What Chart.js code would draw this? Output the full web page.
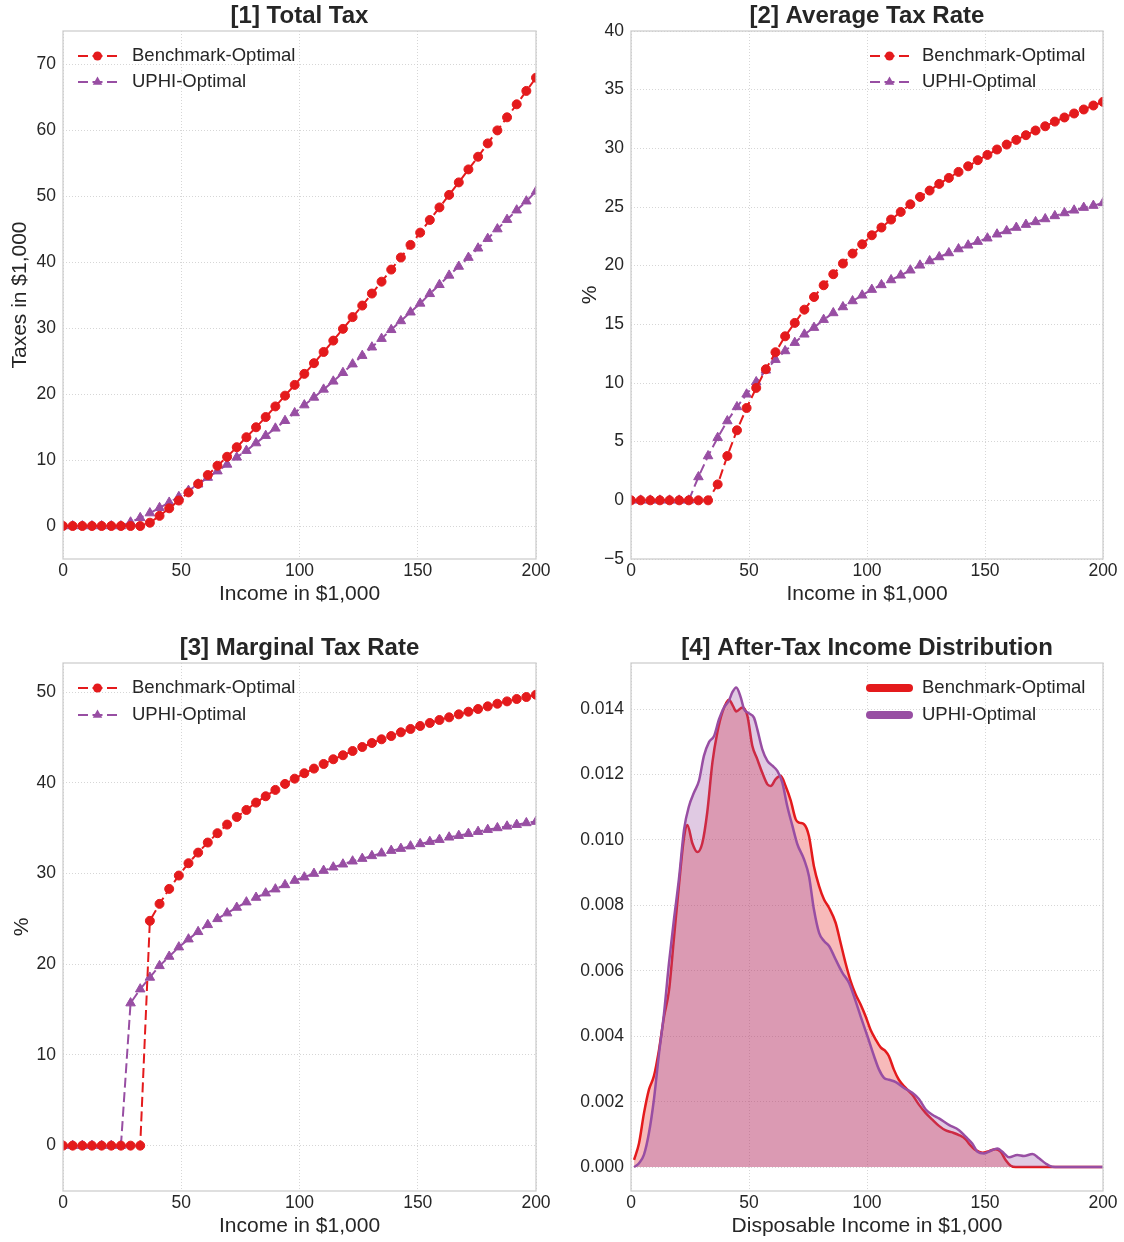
<!DOCTYPE html>
<html>
<head>
<meta charset="utf-8">
<title>Optimal tax schedules</title>
<script src="https://cdn.jsdelivr.net/npm/chart.js@4.4.1/dist/chart.umd.min.js"></script>
<style>
    html, body { margin: 0; padding: 0; background: #fff; }
    body { width: 1124px; height: 1242px; position: relative; overflow: hidden; }
    .painel { position: absolute; }
</style>
</head>
<body>
<div class="painel" style="left:0;top:0;width:562px;height:610px"><canvas id="graficoTotal"></canvas></div>
<div class="painel" style="left:562px;top:0;width:562px;height:610px"><canvas id="graficoMedia"></canvas></div>
<div class="painel" style="left:0;top:620px;width:562px;height:622px"><canvas id="graficoMarginal"></canvas></div>
<div class="painel" style="left:562px;top:620px;width:562px;height:622px"><canvas id="graficoDistribuicao"></canvas></div>
<script>
// income grid shared by panels 1-3 (50 points, 0..200)
const incomeGrid = [0, 4.08, 8.16, 12.24, 16.33, 20.41, 24.49, 28.57, 32.65, 36.73,
    40.82, 44.90, 48.98, 53.06, 57.14, 61.22, 65.31, 69.39, 73.47, 77.55,
    81.63, 85.71, 89.80, 93.88, 97.96, 102.04, 106.12, 110.20, 114.29, 118.37,
    122.45, 126.53, 130.61, 134.69, 138.78, 142.86, 146.94, 151.02, 155.10, 159.18,
    163.27, 167.35, 171.43, 175.51, 179.59, 183.67, 187.76, 191.84, 195.92, 200];

// [1] total tax, $1,000
const totalTaxBench = [0, 0, 0, 0, 0, 0, 0, 0, 0, 0.50,
    1.54, 2.68, 3.86, 5.09, 6.38, 7.72, 9.13, 10.49, 11.94, 13.45,
    14.96, 16.51, 18.12, 19.75, 21.38, 23.05, 24.67, 26.37, 28.09, 29.87,
    31.65, 33.40, 35.22, 37.02, 38.85, 40.68, 42.59, 44.45, 46.37, 48.27,
    50.17, 52.06, 54.03, 55.95, 57.97, 59.94, 61.92, 63.89, 65.92, 67.92];
const totalTaxUphi = [0, 0, 0, 0, 0, 0, 0, 0.57, 1.24, 1.96,
    2.76, 3.57, 4.43, 5.36, 6.33, 7.34, 8.31, 9.33, 10.40, 11.42,
    12.57, 13.69, 14.80, 15.95, 17.13, 18.32, 19.48, 20.70, 21.92, 23.22,
    24.52, 25.81, 27.09, 28.39, 29.73, 31.07, 32.39, 33.73, 35.18, 36.55,
    37.97, 39.32, 40.67, 42.08, 43.54, 44.99, 46.42, 47.85, 49.21, 50.70];

// [2] average tax rate, %
const avgRateBench = [0, 0, 0, 0, 0, 0, 0, 0, 0, 1.36,
    3.78, 5.97, 7.87, 9.58, 11.17, 12.62, 13.98, 15.12, 16.25, 17.33,
    18.33, 19.27, 20.18, 21.03, 21.82, 22.59, 23.25, 23.93, 24.58, 25.23,
    25.86, 26.40, 26.97, 27.48, 27.99, 28.47, 28.99, 29.44, 29.90, 30.32,
    30.72, 31.12, 31.52, 31.88, 32.28, 32.63, 32.97, 33.31, 33.65, 33.96];
const avgRateUphi = [0, 0, 0, 0, 0, 0, 0, 1.99, 3.78, 5.34,
    6.76, 7.96, 9.04, 10.09, 11.08, 11.99, 12.73, 13.44, 14.15, 14.72,
    15.40, 15.97, 16.48, 16.99, 17.48, 17.96, 18.36, 18.78, 19.18, 19.61,
    20.03, 20.40, 20.74, 21.08, 21.42, 21.74, 22.05, 22.34, 22.68, 22.96,
    23.25, 23.50, 23.73, 23.98, 24.24, 24.49, 24.72, 24.95, 25.12, 25.35];

// [3] marginal tax rate, %
const margRateBench = [0, 0, 0, 0, 0, 0, 0, 0, 0, 24.78,
    26.65, 28.30, 29.77, 31.13, 32.30, 33.41, 34.44, 35.39, 36.23, 37.00,
    37.81, 38.51, 39.21, 39.87, 40.45, 41.05, 41.56, 42.07, 42.59, 43.03,
    43.50, 43.94, 44.38, 44.79, 45.15, 45.56, 45.93, 46.26, 46.59, 46.92,
    47.21, 47.54, 47.83, 48.13, 48.42, 48.71, 48.97, 49.23, 49.45, 49.70];
const margRateUphi = [0, 0, 0, 0, 0, 0, 0, 15.71, 17.25, 18.54,
    19.82, 20.85, 21.88, 22.76, 23.57, 24.34, 25.00, 25.63, 26.25, 26.84,
    27.35, 27.83, 28.27, 28.74, 29.22, 29.59, 29.99, 30.32, 30.69, 31.02,
    31.35, 31.64, 31.94, 32.23, 32.52, 32.74, 33.01, 33.26, 33.51, 33.73,
    33.99, 34.17, 34.39, 34.61, 34.83, 35.02, 35.20, 35.38, 35.57, 35.72];

// [4] after-tax income density
const distIncomeBench = [1.3, 3.4, 5.5, 7.6, 9.7, 11.9, 14.0, 16.1, 18.2, 20.3,
    22.5, 23.9, 26.0, 28.1, 30.2, 32.3, 34.5, 36.6, 38.7, 41.5,
    43.2, 44.6, 47.2, 49.3, 51.4, 53.5, 55.6, 57.8, 59.2, 61.3,
    63.4, 65.5, 67.7, 69.8, 71.2, 73.3, 75.4, 77.5, 79.7, 81.8,
    83.9, 86.7, 88.8, 90.9, 93.1, 95.2, 97.3, 99.4, 101.5, 103.7,
    105.8, 107.9, 109.3, 111.4, 113.5, 116.4, 119.2, 122.0, 124.9, 127.7,
    130.5, 133.4, 136.2, 139.0, 141.8, 143.2, 146.1, 148.9, 151.7, 154.5,
    156.6, 158.8, 160.9, 163.0, 200];
const distDensityBench = [0.00022, 0.00073, 0.00165, 0.00237, 0.00278, 0.0036, 0.0046, 0.0054, 0.0070, 0.0086,
    0.0101, 0.01046, 0.0099, 0.00963, 0.0099, 0.01084, 0.01237, 0.01329, 0.0139, 0.01429,
    0.0141, 0.01393, 0.01405, 0.0138, 0.01288, 0.01247, 0.01206, 0.0117, 0.01165, 0.01186,
    0.01196, 0.01165, 0.0112, 0.01063, 0.01053, 0.01048, 0.01012, 0.0092, 0.00859, 0.00818,
    0.00793, 0.00747, 0.00686, 0.00624, 0.00568, 0.00528, 0.00497, 0.00461, 0.0042, 0.0039,
    0.00366, 0.00354, 0.00339, 0.00298, 0.00267, 0.00242, 0.00221, 0.00191, 0.00165, 0.00145,
    0.00126, 0.00112, 0.00106, 0.00098, 0.00085, 0.00072, 0.00052, 0.00044, 0.00049, 0.00055,
    0.00047, 0.00021, 0.00004, 0, 0];
const distIncomeUphi = [1.3, 3.4, 5.5, 7.6, 9.7, 11.9, 14.0, 16.1, 18.2, 20.3,
    22.5, 24.6, 26.7, 28.8, 30.9, 33.1, 35.2, 37.3, 39.4, 41.5,
    42.9, 44.6, 46.5, 47.9, 50.0, 52.1, 53.5, 55.6, 57.8, 59.9,
    62.0, 64.1, 66.2, 68.4, 70.5, 73.3, 75.4, 77.5, 79.7, 81.8,
    83.9, 86.7, 89.6, 92.4, 94.5, 97.3, 100.2, 103.0, 105.1, 107.2,
    109.3, 112.2, 115.7, 119.2, 122.0, 124.9, 127.7, 130.5, 134.7, 139.0,
    141.8, 144.6, 146.8, 149.6, 152.4, 155.2, 158.1, 160.2, 163.7, 166.5,
    170.1, 172.9, 175.7, 178.5, 181.4, 200];
const distDensityUphi = [0, 0.00012, 0.00038, 0.00104, 0.00206, 0.00349, 0.00471, 0.00624, 0.00757, 0.0088,
    0.01033, 0.01104, 0.01145, 0.01181, 0.01257, 0.013, 0.01318, 0.01369, 0.01405, 0.01426,
    0.01451, 0.01466, 0.01436, 0.014, 0.01387, 0.01374, 0.01339, 0.01278, 0.01242, 0.01227,
    0.01211, 0.01176, 0.01104, 0.01043, 0.00987, 0.00941, 0.0089, 0.00788, 0.00716, 0.00691,
    0.00676, 0.00635, 0.00594, 0.00563, 0.00522, 0.00461, 0.004, 0.00339, 0.00298, 0.00273,
    0.00267, 0.0026, 0.00242, 0.00227, 0.00208, 0.00176, 0.0016, 0.00149, 0.00129, 0.00113,
    0.00093, 0.00072, 0.00047, 0.00042, 0.0005, 0.00057, 0.00042, 0.0003, 0.00037, 0.00034,
    0.0004, 0.00027, 0.00011, 0.00001, 0, 0];

// tick labels
const incomeTicks = [0, 50, 100, 150, 200];
const totalTaxTicks = [0, 10, 20, 30, 40, 50, 60, 70];
const avgRateTicks = [-5, 0, 5, 10, 15, 20, 25, 30, 35, 40];
const margRateTicks = [0, 10, 20, 30, 40, 50];
const densityTicks = [0, 0.002, 0.004, 0.006, 0.008, 0.010, 0.012, 0.014];

const INK = '#262626';
const GRID = '#cccccc';
const RED = '#e41a1c';
const PURPLE = '#984ea3';
const FONT = '"Liberation Sans", Arial, Helvetica, sans-serif';

Chart.defaults.font.family = FONT;
Chart.defaults.color = INK;

const pairs = (xs, ys) => xs.map((x, i) => ({ x: x, y: ys[i] }));
const fixedTicks = list => scale => { scale.ticks = list.map(v => ({ value: v })); };
const withMinus = v => String(v).replace('-', '\u2212');

// light box round the plot area, like the matplotlib spines
const framePlugin = {
    id: 'frame',
    afterDatasetsDraw(chart) {
        const { ctx, chartArea: a } = chart;
        ctx.save();
        ctx.strokeStyle = GRID;
        ctx.lineWidth = 1.25;
        ctx.strokeRect(a.left, a.top, a.right - a.left, a.bottom - a.top);
        ctx.restore();
    }
};

// bold title centred over the plot area (not over the canvas)
const panelTitlePlugin = {
    id: 'panelTitle',
    afterDraw(chart, args, o) {
        if (!o || !o.text) return;
        const { ctx, chartArea: a } = chart;
        ctx.save();
        ctx.fillStyle = INK;
        ctx.font = 'bold 24px ' + FONT;
        ctx.textAlign = 'center';
        ctx.textBaseline = 'middle';
        ctx.fillText(o.text, (a.left + a.right) / 2, o.y);
        ctx.restore();
    }
};

// legend drawn inside the plot area (line sample + marker + label)
const innerLegendPlugin = {
    id: 'innerLegend',
    afterDatasetsDraw(chart, args, o) {
        if (!o || !o.display) return;
        const ctx = chart.ctx;
        ctx.save();
        chart.data.datasets.forEach((ds, i) => {
            const y = o.y + i * o.gap;
            ctx.strokeStyle = ds.borderColor;
            ctx.lineWidth = o.lineWidth || ds.borderWidth;
            ctx.lineCap = o.lineCap || 'butt';
            ctx.setLineDash(o.solid ? [] : ds.borderDash);
            ctx.beginPath();
            ctx.moveTo(o.x, y);
            ctx.lineTo(o.x + o.len, y);
            ctx.stroke();
            ctx.setLineDash([]);
            if (!o.solid) {
                ctx.fillStyle = ds.pointBackgroundColor;
                Chart.helpers.drawPoint(ctx, { pointStyle: ds.pointStyle, radius: ds.pointRadius, rotation: 0, borderWidth: 0 }, o.x + o.len / 2, y);
            }
            ctx.fillStyle = INK;
            ctx.font = '18.5px ' + FONT;
            ctx.textAlign = 'left';
            ctx.textBaseline = 'middle';
            ctx.fillText(ds.label, o.textX, y);
        });
        ctx.restore();
    }
};

Chart.register(framePlugin, innerLegendPlugin, panelTitlePlugin);

function baseOptions(o) {
    return {
        responsive: true,
        maintainAspectRatio: false,
        animation: false,
        devicePixelRatio: 1,
        layout: { padding: { left: 0, right: o.padRight, top: o.padTop, bottom: 0 } },
        plugins: {
            legend: { display: false },
            tooltip: { enabled: false },
            title: { display: false },
            panelTitle: { text: o.title, y: o.titleY },
            innerLegend: o.legend
        },
        scales: {
            x: {
                type: 'linear', min: 0, max: 200,
                afterBuildTicks: fixedTicks(incomeTicks),
                afterFit: s => { s.height = 51; },
                grid: { color: GRID, lineWidth: 0.8, drawTicks: false },
                border: { display: false, dash: [1, 2] },
                ticks: { color: INK, font: { size: 17.5 }, padding: 2, maxRotation: 0 },
                title: { display: true, text: o.xTitle, color: INK, font: { size: 21 }, padding: { top: 0, bottom: 3 } }
            },
            y: {
                type: 'linear', min: o.yMin, max: o.yMax,
                afterBuildTicks: fixedTicks(o.yTicks),
                afterFit: s => { s.width = o.yWidth; },
                grid: { color: GRID, lineWidth: 0.8, drawTicks: false },
                border: { display: false, dash: [1, 2] },
                ticks: { color: INK, font: { size: 17.5 }, padding: 7, callback: o.yFormat || withMinus },
                title: { display: !!o.yTitle, text: o.yTitle, color: INK, font: { size: 21 }, padding: { top: o.yTitlePad, bottom: 0 } }
            }
        }
    };
}

function taxChart(id, bench, uphi, o) {
    if (Chart.getChart(id)) {
        Chart.getChart(id).destroy();
    }
    new Chart(document.getElementById(id), {
        type: 'line',
        data: {
            datasets: [{
                label: 'Benchmark-Optimal',
                data: pairs(incomeGrid, bench),
                borderColor: RED,
                backgroundColor: RED,
                borderWidth: 2,
                borderDash: [10, 4.5],
                pointStyle: 'circle',
                pointRadius: 4.5,
                pointBorderWidth: 1,
                pointBackgroundColor: RED,
                pointBorderColor: RED,
                tension: 0,
                fill: false
            }, {
                label: 'UPHI-Optimal',
                data: pairs(incomeGrid, uphi),
                borderColor: PURPLE,
                backgroundColor: PURPLE,
                borderWidth: 2,
                borderDash: [10, 4.5],
                pointStyle: 'triangle',
                pointRadius: 5.5,
                pointBorderWidth: 1,
                pointBackgroundColor: PURPLE,
                pointBorderColor: PURPLE,
                tension: 0,
                fill: false
            }]
        },
        options: baseOptions(o)
    });
}

// [1] Total tax
taxChart('graficoTotal', totalTaxBench, totalTaxUphi, {
    title: '[1] Total Tax', titleY: 16, padTop: 31, padRight: 26,
    xTitle: 'Income in $1,000', yTitle: 'Taxes in $1,000', yTitlePad: 7.4, yWidth: 63,
    yMin: -5, yMax: 75, yTicks: totalTaxTicks,
    legend: { display: true, x: 78, len: 39, textX: 132, y: 56, gap: 26 }
});

// [2] Average tax rate
taxChart('graficoMedia', avgRateBench, avgRateUphi, {
    title: '[2] Average Tax Rate', titleY: 16, padTop: 31, padRight: 21,
    xTitle: 'Income in $1,000', yTitle: '%', yTitlePad: 15.4, yWidth: 69,
    yMin: -5, yMax: 40, yTicks: avgRateTicks,
    legend: { display: true, x: 308, len: 39, textX: 360, y: 56, gap: 26 }
});

// [3] Marginal tax rate
taxChart('graficoMarginal', margRateBench, margRateUphi, {
    title: '[3] Marginal Tax Rate', titleY: 28, padTop: 43, padRight: 26,
    xTitle: 'Income in $1,000', yTitle: '%', yTitlePad: 9.4, yWidth: 63,
    yMin: -5, yMax: 53.2, yTicks: margRateTicks,
    legend: { display: true, x: 78, len: 39, textX: 132, y: 68, gap: 27 }
});

// [4] After-tax income distribution
(function () {
    const id = 'graficoDistribuicao';
    if (Chart.getChart(id)) {
        Chart.getChart(id).destroy();
    }
    new Chart(document.getElementById(id), {
        type: 'line',
        data: {
            datasets: [{
                label: 'Benchmark-Optimal',
                data: pairs(distIncomeBench, distDensityBench),
                borderColor: RED,
                backgroundColor: 'rgba(228, 26, 28, 0.3)',
                borderWidth: 2.5,
                pointRadius: 0,
                fill: 'origin',
                cubicInterpolationMode: 'monotone',
                order: 2
            }, {
                label: 'UPHI-Optimal',
                data: pairs(distIncomeUphi, distDensityUphi),
                borderColor: PURPLE,
                backgroundColor: 'rgba(152, 78, 163, 0.3)',
                borderWidth: 2.5,
                pointRadius: 0,
                fill: 'origin',
                cubicInterpolationMode: 'monotone',
                order: 1
            }]
        },
        options: baseOptions({
            title: '[4] After-Tax Income Distribution', titleY: 28, padTop: 43, padRight: 21,
            xTitle: 'Disposable Income in $1,000', yTitle: '', yWidth: 69,
            yMin: -0.00073, yMax: 0.01541, yTicks: densityTicks,
            yFormat: v => Number(v).toFixed(3),
            legend: { display: true, solid: true, lineWidth: 8, lineCap: 'round', x: 308, len: 39, textX: 360, y: 68, gap: 27 }
        })
    });
})();
</script>
</body>
</html>
